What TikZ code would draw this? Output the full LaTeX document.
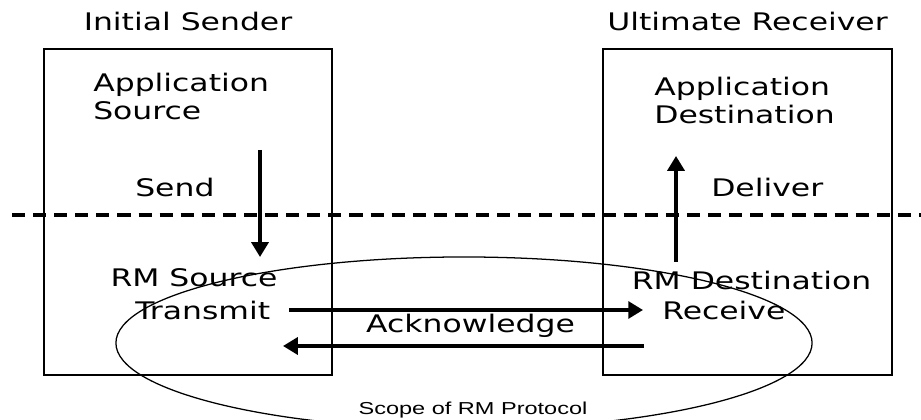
\documentclass[tikz,border=0pt]{standalone}
\usepackage{fontspec}
\setmainfont{DejaVu Sans}[FakeStretch=1.3]
\newfontfamily\scopefont{Liberation Sans}[FakeStretch=1.36]
\usetikzlibrary{positioning, arrows.meta, shapes.geometric}

\begin{document}
\begin{tikzpicture}[
    x=0.025cm, y=0.025cm,
    endpoint/.style={draw, line width=1.6pt, minimum width=7.2cm, minimum height=8.15cm},
    txt/.style={inner sep=0pt, align=left, font=\fontsize{17.2}{20.2}\selectfont},
    flow/.style={-{Triangle[length=10.5pt, width=12pt]}, line width=2.5pt},
    layer/.style={line width=2.4pt, dash pattern=on 9.3pt off 5.7pt},
    rmscope/.style={draw, ellipse, line width=0.9pt, minimum width=17.4cm, minimum height=4.3cm}
]
    \useasboundingbox (0,0) rectangle (921,420);
    \clip (0,0) rectangle (921,420);

    % NODES
    \node[endpoint] (sender) at (188,208) {};
    \node[endpoint, minimum width=7.225cm] (receiver) at (747.5,208) {};
    \node[txt, above=12pt of sender] (sender_title) {Initial Sender};
    \node[txt, above=12pt of receiver] (receiver_title) {Ultimate Receiver};

    % base of a two-line node sits on its last line
    \node[txt, anchor=base west] (app_source) at (93,300) {Application\\Source};
    \node[txt, anchor=base west] (send) at (135,223) {Send};
    \node[txt, anchor=base] (rm_source) at (194,133) {RM Source};
    \node[txt, anchor=west] (transmit) at (135,110) {Transmit};

    \node[txt, anchor=base west] (app_dest) at (654,296) {Application\\Destination};
    \node[txt, anchor=base west] (deliver) at (711,223) {Deliver};
    \node[txt, anchor=base] (rm_dest) at (751.5,130) {RM Destination};
    \node[txt, anchor=west] (receive) at (662,110) {Receive};

    \node[rmscope] (rm_scope) at (464,77) {};
    \node[inner sep=0pt, anchor=base, font=\scopefont\fontsize{12.3}{14}\selectfont] (scope_label) at (473,5) {Scope of RM Protocol};

    \coordinate (layer_west) at (12,205);
    \coordinate (layer_east) at (921,205);
    \coordinate (send_from) at (260,270);
    \coordinate (send_to) at (260,163);
    \coordinate (deliver_from) at (676,158);
    \coordinate (deliver_to) at (676,264);
    \coordinate (ack_from) at (644,74);
    \coordinate (ack_to) at (283,74);

    % EDGES
    \draw[layer] (layer_west) -- (layer_east);
    \draw[flow] (send_from) -- (send_to);
    \draw[flow] (deliver_from) -- (deliver_to);
    \draw[flow, shorten <=13.5pt, shorten >=13.5pt] (transmit) -- (receive);
    \draw[flow] (ack_from) -- node[txt, above=5pt, xshift=5pt] (ack) {Acknowledge} (ack_to);

\end{tikzpicture}
\end{document}
